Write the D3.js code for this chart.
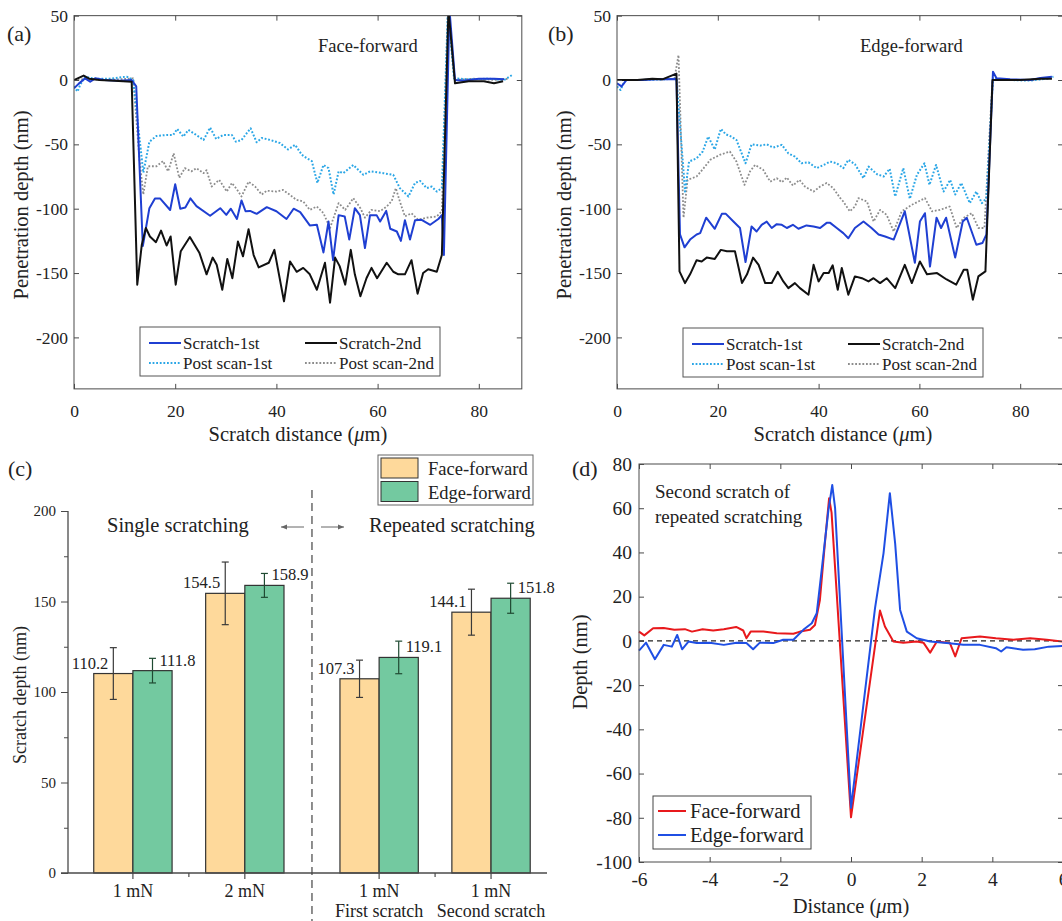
<!DOCTYPE html>
<html>
<head>
<meta charset="utf-8">
<script src="https://cdn.jsdelivr.net/npm/d3@7"></script>
<style>
  body { margin: 0; background: #fff; }
  svg text { font-family: "Liberation Serif", "Times New Roman", serif; fill: #222; }
</style>
</head>
<body>
<svg id="fig" width="1062" height="921"></svg>
<script>
// ---- panel (a) face-forward profiles: [distance um, depth nm]
const aScratch1st = [[0,-6.5],[0.9,-3],[2.2,1.3],[3.2,-1.3],[4.2,1.3],[6,0],[9,-0.5],[11.4,0],[12.3,-5],[13.6,-129],[14.9,-99.6],[16,-92],[17,-92],[19,-101],[20,-81],[21,-100],[22,-99],[23,-92],[24.2,-98],[26.9,-105.5],[28.9,-99.6],[30.1,-104.8],[31,-100],[32.2,-108],[33.1,-93.6],[33.9,-102],[34.8,-101.7],[36.1,-104],[38.1,-98.8],[40,-102],[42,-108],[43.4,-100],[44.7,-102.7],[46.6,-113],[48,-112.5],[49.3,-134],[50.3,-110],[51.2,-140],[52.3,-105],[53.5,-106],[54.4,-124],[55.5,-99.6],[56.5,-105],[57.5,-130.6],[58.5,-105],[59.8,-105],[60.5,-110],[61.7,-101.7],[62.5,-115.6],[63.8,-117.7],[64.6,-125],[65.4,-109],[66.4,-124],[67.4,-109],[68.7,-108.6],[70.4,-112.5],[72,-108],[72.7,-105],[73.1,-136],[74.2,55],[75.3,0],[77,-0.5],[80,1],[83,1],[85,0.5]];
const aScratch2nd = [[0,0],[1.9,3.4],[3,1],[5,0],[8,-0.5],[11.4,-1.3],[12.5,-159],[13.4,-128],[14.2,-115],[15,-121.6],[16.2,-126],[17.2,-117],[18.3,-128.6],[19.1,-121.6],[20.1,-159],[21.1,-133],[22.9,-122],[24.8,-134.5],[26.2,-151],[27.4,-138],[28.2,-143.6],[29.3,-163],[30.3,-139],[31.3,-154],[32.4,-125.5],[33.4,-137],[34.5,-116],[35.5,-136],[36.5,-145.6],[38.5,-142],[39.6,-132],[41.5,-172],[42.7,-141],[44,-149],[45.3,-146],[46.6,-151],[48,-163],[49.6,-142],[50.6,-173],[51.6,-138],[52.5,-144.6],[53.6,-159],[54.7,-132],[55.5,-151],[56.6,-168],[57.8,-154],[58.8,-146],[59.9,-154],[61.8,-142],[63.1,-149],[64.1,-151],[65.4,-151],[66.7,-140],[67.9,-166],[69,-150],[70,-147],[71.7,-149],[72.7,-136],[74,55],[75.3,-2.6],[78,-1],[81,-1],[83,-2.5],[84.8,-1]];
const aPost1st = [[0,-5],[0.7,-9],[1.2,-4],[2.2,2.6],[4,1],[7,1],[10.4,2.6],[11.7,0],[12.8,-40],[13.7,-72],[14.9,-48],[16.3,-43.5],[18.3,-42.7],[19.6,-42.7],[20.4,-38],[21.6,-44],[22.6,-38.8],[23.9,-42],[25.6,-46.6],[26.9,-37],[28.1,-45.8],[29.5,-42.7],[31.2,-42.7],[32,-47.9],[33.1,-46.6],[34.9,-37.5],[36.1,-48.4],[37.1,-45],[38.8,-46.6],[40.7,-49],[42.3,-54],[43.7,-50.4],[45,-58],[46,-60.8],[47,-63],[48.1,-80],[49.3,-66],[50.3,-68.5],[51.3,-89],[52.3,-71],[53.2,-72.4],[55.2,-66],[57.2,-73.7],[58.5,-71],[61.1,-72.4],[63.1,-73.7],[64.4,-84],[66.1,-90.5],[67.4,-80],[68.4,-78.4],[69.7,-84],[70.7,-82.8],[71.7,-86.7],[72.7,-84],[73.9,55],[75.1,1.3],[78,0.5],[82,1],[85,0],[86.6,3.9]];
const aPost2nd = [[0,0],[3,1],[6,0],[9,0.5],[11.7,1.3],[12.9,-60],[13.7,-89],[14.6,-67],[16.3,-67],[17.6,-63],[18.6,-71],[19.7,-57],[20.8,-76],[21.9,-68.5],[23.2,-71],[24.2,-68.5],[25.6,-72.4],[26.2,-70],[27.2,-82.8],[28.7,-77.6],[30.2,-86.7],[31.2,-80],[32.2,-85],[33.1,-90.5],[34.5,-79],[35.8,-82.8],[37.1,-89],[38.1,-86],[40,-86.7],[41.3,-85.4],[42.6,-89],[43.9,-93],[45.3,-94.4],[46.6,-100.9],[48,-98.3],[49.3,-103.5],[50.6,-115],[52.3,-95.7],[53.6,-100.9],[55.2,-91.8],[56.6,-99.6],[57.5,-107],[58.8,-100.9],[60.5,-102],[61.8,-98.3],[62.8,-94],[63.6,-84],[64.4,-94.4],[65.4,-106],[66.7,-103.5],[68,-108.6],[69.7,-107],[71.7,-106],[72.7,-102],[73.9,55],[75.2,0],[79,1],[83,0],[86,1]];

// ---- panel (b) edge-forward profiles
const bScratch1st = [[0,-2.6],[0.9,-5],[1.9,0],[5,0],[8,0.5],[11.8,0.8],[12.5,-120],[13.4,-130],[14.5,-124],[15.8,-120],[16.5,-119],[17.7,-107],[19.4,-115.6],[20.8,-104],[21.6,-104],[23.1,-110],[24.4,-115],[25.5,-141.5],[26.7,-113.8],[27.7,-117.7],[28.7,-112.5],[29.7,-110],[30.7,-115],[31.7,-112],[32.7,-112.5],[33.7,-115],[34.9,-112.5],[36,-115.6],[37.6,-113],[39,-113.8],[40.3,-115],[41.6,-111],[42.3,-111],[43.6,-115],[44.9,-119],[45.9,-123],[47.2,-115],[48.9,-110],[50.5,-115],[51.9,-120],[53.2,-121.6],[54.9,-124],[57.1,-102],[59.1,-142],[60.1,-110],[61.1,-103.5],[62.1,-145],[63.4,-107],[64.3,-115],[65.3,-107],[67.1,-138],[68.6,-110],[69.4,-107],[71.3,-128],[72.5,-126.7],[73.3,-120],[74.6,6.5],[75.3,1.3],[78,0.5],[82,0],[84,1.5],[86.3,2.6]];
const bScratch2nd = [[0,0],[4,0],[7,1],[9,0.5],[11.8,5],[12.4,-148.7],[13.5,-157.8],[14.5,-151],[15.8,-140],[16.8,-141],[17.8,-138],[19.4,-139],[20.6,-132],[21.8,-133],[23.4,-133],[24.8,-157.8],[25.8,-151],[27,-138],[28.1,-143.6],[29.4,-157.8],[30.7,-157.8],[31.9,-149],[33,-156.5],[34,-161.7],[35.3,-157.8],[36.3,-161.7],[38,-166.8],[39,-143.6],[40,-156.5],[41,-150],[42,-150],[42.8,-144],[43.8,-163],[44.6,-146],[45.9,-166.8],[47.2,-152.6],[48.6,-154],[49.9,-156.5],[50.9,-154],[52.2,-157.8],[53.5,-154],[55.2,-161.7],[57.1,-143.6],[58.5,-157.8],[60.1,-141],[61.5,-151],[63.5,-150],[65.4,-155],[67.3,-159],[68.8,-147.4],[69.5,-147.4],[70.6,-170.7],[71.7,-152.6],[73.1,-148.7],[74.5,0],[76,0],[80,0],[84,1],[86.3,1]];
const bPost1st = [[0,-5],[0.7,-7.8],[1.6,0],[5,0],[9,0.5],[11.8,1],[12.6,-40],[13.5,-86.7],[14.3,-63.4],[15.8,-60.8],[17,-55.6],[18.1,-44],[19.4,-54],[20.6,-38],[21.6,-42.2],[22.7,-44],[23.7,-46.6],[25.5,-64.7],[26.7,-50],[28.4,-51],[29.7,-50],[31,-52.5],[32.7,-50.4],[34,-57],[35.3,-59.5],[36.6,-64.7],[38,-64],[39.6,-68.5],[41,-66],[42.3,-63.4],[43.6,-64.7],[44.9,-68.5],[45.9,-62],[47.2,-65.4],[48.9,-76.3],[49.9,-67.3],[51.6,-73.2],[52.9,-75],[54.1,-69],[55.2,-90.5],[56.8,-68.5],[58.1,-92.3],[59.5,-73.7],[61,-64.7],[62,-81.5],[63.3,-66],[64.8,-86.7],[66.1,-77.6],[67.1,-89],[68.3,-80],[70,-95.7],[71.3,-86.7],[72.4,-95.7],[73.3,-91.8],[74.6,1.3],[78,0],[82,-0.5],[85,1],[86.6,2.6]];
const bPost2nd = [[0,0],[5,0],[9,0.5],[11.4,1],[12.2,19.4],[13.2,-107],[14,-77.6],[15.8,-75],[17.2,-68.5],[18.5,-62],[20.5,-58],[22.4,-55.6],[23.7,-63.4],[25.3,-81.5],[26.4,-71],[27.4,-66],[29,-69.8],[30.4,-79],[31.7,-76.3],[32.7,-79.4],[33.7,-75.8],[34.9,-82],[36.2,-77.6],[37.3,-82.8],[39,-86.7],[40.3,-82.8],[41.6,-80],[42.9,-84],[44.3,-91.8],[44.9,-94.4],[46.2,-102],[47.2,-98.3],[47.9,-91.8],[49.6,-94.4],[50.9,-110],[52.2,-100.9],[53.5,-104.8],[54.9,-117.7],[56.5,-102],[58.5,-97],[61.1,-91.8],[62.5,-102],[64.1,-100.9],[66,-98.3],[67.4,-115],[68.8,-107],[70.4,-103.5],[71.7,-115],[72.9,-115],[74.5,0],[78,0],[82,0],[86,1]];

const profileNames = ["Scratch-1st", "Scratch-2nd", "Post scan-1st", "Post scan-2nd"];
const xTicksAB = [0, 20, 40, 60, 80];
const yTicksAB = [50, 0, -50, -100, -150, -200];

// ---- panel (c) bar chart
const cLoads = ["1 mN", "2 mN", "1 mN", "1 mN"];
const cSubLabels = ["", "", "First scratch", "Second scratch"];
const cGroups = ["single", "single", "repeated", "repeated"];
const faceMeans = [110.2, 154.5, 107.3, 144.1];
const faceErr = [14.3, 17.3, 10.3, 12.7];
const edgeMeans = [111.8, 158.9, 119.1, 151.8];
const edgeErr = [6.8, 6.6, 9, 8.3];
const yTicksC = [0, 50, 100, 150, 200];

// ---- panel (d) second scratch cross-section
const dFace = [[-6,4.2],[-5.85,2.5],[-5.6,5.7],[-5.3,5.8],[-5,5],[-4.7,5.3],[-4.5,4.2],[-4.2,5.3],[-3.9,4.7],[-3.6,5.3],[-3.25,6.3],[-3.05,4.7],[-2.96,1.2],[-2.84,4.2],[-2.48,4.2],[-2.1,3.5],[-1.63,3.2],[-1.44,4.2],[-1.16,5],[-1.02,7.2],[-0.88,18.5],[-0.74,44],[-0.62,64.5],[-0.55,58],[0,-79.8],[0.82,13.7],[0.96,6.5],[1.2,-0.3],[1.48,-0.8],[1.86,-0.3],[2.05,-0.8],[2.24,-5.3],[2.43,-0.3],[2.8,-1],[2.95,-7],[3.13,1.2],[3.65,2],[4.1,1.2],[4.6,0.5],[5.07,1.2],[5.54,0.5],[6,-0.3]];
const dEdge = [[-6,-4.4],[-5.8,-0.8],[-5.55,-8.3],[-5.3,-1.8],[-5.07,-2.6],[-4.92,2.7],[-4.78,-3.8],[-4.6,-0.3],[-4.37,-1],[-4,-0.8],[-3.6,-1.8],[-3.24,-0.8],[-2.96,-1],[-2.77,-3.8],[-2.58,-0.8],[-2.2,-1],[-1.92,0.5],[-1.63,0.5],[-1.35,5],[-1.11,8],[-0.97,12.5],[-0.83,32],[-0.64,59],[-0.53,70.5],[-0.45,60],[0,-75.5],[0.68,14.8],[0.92,39.6],[1.1,66.8],[1.25,44],[1.39,14],[1.58,4.2],[1.86,1.2],[2.24,-0.3],[2.71,-1],[3.18,-1.8],[3.65,-1.8],[4.1,-3.3],[4.25,-4.8],[4.4,-2.9],[4.87,-4],[5.2,-3.8],[5.6,-2.6],[6,-2.3]];
const xTicksD = [-6, -4, -2, 0, 2, 4, 6];
const yTicksD = [80, 60, 40, 20, 0, -20, -40, -60, -80, -100];

const svg = d3.select("#fig");
const axisColor = "#4a4a4a";
const serif = '"Liberation Serif", "Times New Roman", serif';

function styleAxis(g, fs) {
  g.attr("font-family", serif).attr("font-size", fs);
  g.selectAll(".domain").remove();
  g.selectAll(".tick line").attr("stroke", axisColor);
  g.selectAll(".tick text").attr("fill", "#222");
}

// MATLAB style box with inward ticks on every side
function boxAxes(g, x, y, xt, yt, fs, padX, padY) {
  const [l, r] = x.range(), [b, t] = y.range();
  g.append("rect").attr("x", l).attr("y", t).attr("width", r - l).attr("height", b - t)
    .attr("fill", "none").attr("stroke", axisColor).attr("stroke-width", 1);
  const fmt = d => String(d);
  g.append("g").attr("transform", `translate(0,${b})`)
    .call(d3.axisBottom(x).tickValues(xt).tickSizeInner(-5).tickSizeOuter(0).tickPadding(padX).tickFormat(fmt))
    .call(s => styleAxis(s, fs));
  g.append("g").attr("transform", `translate(0,${t})`)
    .call(d3.axisTop(x).tickValues(xt).tickSizeInner(-5).tickSizeOuter(0).tickFormat(""))
    .call(s => styleAxis(s, fs));
  g.append("g").attr("transform", `translate(${l},0)`)
    .call(d3.axisLeft(y).tickValues(yt).tickSizeInner(-5).tickSizeOuter(0).tickPadding(padY).tickFormat(fmt))
    .call(s => styleAxis(s, fs));
  g.append("g").attr("transform", `translate(${r},0)`)
    .call(d3.axisRight(y).tickValues(yt).tickSizeInner(-5).tickSizeOuter(0).tickFormat(""))
    .call(s => styleAxis(s, fs));
}

const profileStyles = [
  { color: "#1f3fd2", dash: null, width: 2 },
  { color: "#111111", dash: null, width: 2 },
  { color: "#2aa6e6", dash: "1.8,1.8", width: 2 },
  { color: "#8c8c8c", dash: "1.8,1.8", width: 1.8 }
];

function profilePanel(id, x, y, seriesList, title, titleX, legendBox, label, labelX, yLabelX, xLabelX) {
  const g = svg.append("g");
  const [l, r] = x.range(), [b, t] = y.range();
  g.append("clipPath").attr("id", id).append("rect")
    .attr("x", l).attr("y", t).attr("width", r - l).attr("height", b - t);
  const line = d3.line().x(d => x(d[0])).y(d => y(d[1]));
  // dotted post scans first, then the solid scratches on top
  [3, 2, 0, 1].forEach(i => {
    const st = profileStyles[i];
    g.append("path").datum(seriesList[i])
      .attr("clip-path", `url(#${id})`)
      .attr("fill", "none").attr("stroke", st.color).attr("stroke-width", st.width)
      .attr("stroke-dasharray", st.dash).attr("stroke-linejoin", "round")
      .attr("d", line);
  });
  boxAxes(g, x, y, xTicksAB, yTicksAB, 17.5, 16, 6);

  g.append("text").attr("x", titleX).attr("y", 52).attr("font-size", 18.5).text(title);
  g.append("text").attr("x", labelX).attr("y", 41).attr("font-size", 22).text(label);
  g.append("text").attr("transform", `translate(${yLabelX},205) rotate(-90)`)
    .attr("text-anchor", "middle").attr("font-size", 20.5).text("Penetration depth (nm)");
  const xl = g.append("text").attr("x", xLabelX).attr("y", 441).attr("text-anchor", "middle").attr("font-size", 20.5);
  xl.append("tspan").text("Scratch distance (");
  xl.append("tspan").attr("font-style", "italic").text("\u03bc");
  xl.append("tspan").text("m)");

  // legend, two columns
  const lg = g.append("g");
  lg.append("rect").attr("x", legendBox.x).attr("y", legendBox.y).attr("width", 300).attr("height", 49)
    .attr("fill", "#fff").attr("stroke", "#555").attr("stroke-width", 1);
  [0, 1, 2, 3].forEach(i => {
    const col = i % 2, row = Math.floor(i / 2);
    const lx = legendBox.x + 9 + col * 156, ly = legendBox.y + 16 + row * 20;
    const st = profileStyles[i];
    lg.append("line").attr("x1", lx).attr("x2", lx + 32).attr("y1", ly).attr("y2", ly)
      .attr("stroke", st.color).attr("stroke-width", st.width).attr("stroke-dasharray", st.dash);
    lg.append("text").attr("x", lx + 34).attr("y", ly + 6).attr("font-size", 17).text(profileNames[i]);
  });
}

// ---------- panel (a)
const xa = d3.scaleLinear().domain([0, 88.5]).range([74, 74 + 88.5 * 5.06]);
const ya = d3.scaleLinear().domain([-240, 50]).range([80 + 240 * 1.287, 80 - 50 * 1.287]);
profilePanel("clipA", xa, ya, [aScratch1st, aScratch2nd, aPost1st, aPost2nd],
  "Face-forward", 318, { x: 140, y: 327 }, "(a)", 7, 28, 298);

// ---------- panel (b)
const xb = d3.scaleLinear().domain([0, 88.5]).range([617, 617 + 88.5 * 5.04]);
profilePanel("clipB", xb, ya, [bScratch1st, bScratch2nd, bPost1st, bPost2nd],
  "Edge-forward", 860, { x: 683, y: 328 }, "(b)", 548, 571, 843);

// ---------- panel (c)
(function () {
  const g = svg.append("g");
  const pos = cLoads.map((d, i) => i + 1 + (cGroups[i] === "repeated" ? 0.2 : 0));
  const x = d3.scaleLinear().domain([0.42, 4.7]).range([68, 547]);
  const y = d3.scaleLinear().domain([0, 200]).range([873, 511]);
  const bw = 0.35;
  const faceColor = "#fed99b", edgeColor = "#73c9a0";

  const bars = [
    { means: faceMeans, err: faceErr, fill: faceColor, off: -bw, errColor: "#3a3a3a", anchor: "end", dx: -5 },
    { means: edgeMeans, err: edgeErr, fill: edgeColor, off: 0, errColor: "#1f4a32", anchor: "start", dx: 7 }
  ];
  bars.forEach(s => {
    s.means.forEach((v, i) => {
      const x0 = x(pos[i] + s.off), x1 = x(pos[i] + s.off + bw), cx = (x0 + x1) / 2;
      g.append("rect").attr("x", x0).attr("y", y(v)).attr("width", x1 - x0).attr("height", y(0) - y(v))
        .attr("fill", s.fill).attr("stroke", "#333").attr("stroke-width", 1.2);
      const top = y(v + s.err[i]), bot = y(v - s.err[i]);
      g.append("line").attr("x1", cx).attr("x2", cx).attr("y1", top).attr("y2", bot).attr("stroke", s.errColor).attr("stroke-width", 1.2);
      [top, bot].forEach(yy => g.append("line").attr("x1", cx - 3.5).attr("x2", cx + 3.5).attr("y1", yy).attr("y2", yy)
        .attr("stroke", s.errColor).attr("stroke-width", 1.2));
      g.append("text").attr("x", cx + s.dx).attr("y", y(v) - 5).attr("text-anchor", s.anchor)
        .attr("font-size", 16.5).text(v.toFixed(1));
    });
  });

  // axes (Origin style: left + bottom, outward ticks)
  g.append("line").attr("x1", 68).attr("x2", 68).attr("y1", y(200)).attr("y2", y(0)).attr("stroke", axisColor).attr("stroke-width", 1.3);
  g.append("line").attr("x1", 61).attr("x2", 547).attr("y1", y(0)).attr("y2", y(0)).attr("stroke", axisColor).attr("stroke-width", 1.3);
  g.append("g").attr("transform", "translate(68,0)")
    .call(d3.axisLeft(y).tickValues(yTicksC).tickSizeInner(7).tickSizeOuter(0).tickPadding(5).tickFormat(d => String(d)))
    .call(s => styleAxis(s, 15));
  g.append("g").attr("transform", "translate(68,0)")
    .call(d3.axisLeft(y).tickValues([25, 75, 125, 175]).tickSizeInner(4).tickSizeOuter(0).tickFormat(""))
    .call(s => styleAxis(s, 15));
  pos.forEach((p, i) => {
    g.append("line").attr("x1", x(p)).attr("x2", x(p)).attr("y1", y(0)).attr("y2", y(0) + 6).attr("stroke", axisColor).attr("stroke-width", 1.2);
    g.append("text").attr("x", x(p)).attr("y", 897).attr("text-anchor", "middle").attr("font-size", 18).text(cLoads[i]);
    if (cSubLabels[i]) g.append("text").attr("x", x(p)).attr("y", 917).attr("text-anchor", "middle").attr("font-size", 18).text(cSubLabels[i]);
  });
  [(pos[0] + pos[1]) / 2, (pos[2] + pos[3]) / 2].forEach(p =>
    g.append("line").attr("x1", x(p)).attr("x2", x(p)).attr("y1", y(0)).attr("y2", y(0) + 4).attr("stroke", axisColor).attr("stroke-width", 1.2));

  // group divider
  const divX = x((pos[1] + pos[2]) / 2);
  g.append("line").attr("x1", divX).attr("x2", divX).attr("y1", 490).attr("y2", 921)
    .attr("stroke", "#444").attr("stroke-width", 1.2).attr("stroke-dasharray", "8,5");
  g.append("text").attr("x", 107).attr("y", 532).attr("font-size", 20.5).text("Single scratching");
  g.append("text").attr("x", 369).attr("y", 532).attr("font-size", 20.5).text("Repeated scratching");
  const arrow = (x1, x2) => {
    g.append("line").attr("x1", x1).attr("x2", x2).attr("y1", 527).attr("y2", 527).attr("stroke", "#666").attr("stroke-width", 1);
    const s = Math.sign(x2 - x1);
    g.append("path").attr("d", `M${x2},527 L${x2 - s * 6},524.5 L${x2 - s * 6},529.5 Z`).attr("fill", "#666");
  };
  arrow(304, 281);
  arrow(321, 344);

  g.append("text").attr("x", 8).attr("y", 476).attr("font-size", 22).text("(c)");
  g.append("text").attr("transform", "translate(26,695) rotate(-90)").attr("text-anchor", "middle")
    .attr("font-size", 18).text("Scratch depth (nm)");

  // legend
  const lg = g.append("g");
  lg.append("rect").attr("x", 378).attr("y", 455).attr("width", 155).attr("height", 50).attr("fill", "#fff").attr("stroke", "#666");
  [["Face-forward", faceColor], ["Edge-forward", edgeColor]].forEach((d, i) => {
    lg.append("rect").attr("x", 381).attr("y", 458 + i * 23.5).attr("width", 37).attr("height", 20)
      .attr("fill", d[1]).attr("stroke", "#333").attr("stroke-width", 1);
    lg.append("text").attr("x", 428).attr("y", 475 + i * 23.5).attr("font-size", 18.5).text(d[0]);
  });
})();

// ---------- panel (d)
(function () {
  const g = svg.append("g");
  const x = d3.scaleLinear().domain([-6, 6]).range([639, 1063]);
  const y = d3.scaleLinear().domain([-100, 80]).range([862, 464]);
  g.append("line").attr("x1", x(-6)).attr("x2", x(6)).attr("y1", y(0)).attr("y2", y(0))
    .attr("stroke", "#222").attr("stroke-width", 1.3).attr("stroke-dasharray", "5,4");
  const line = d3.line().x(d => x(d[0])).y(d => y(d[1]));
  const series = [[dFace, "#e8191c", "Face-forward"], [dEdge, "#1f4fe4", "Edge-forward"]];
  series.forEach(s => g.append("path").datum(s[0]).attr("fill", "none").attr("stroke", s[1])
    .attr("stroke-width", 2).attr("stroke-linejoin", "round").attr("d", line));
  boxAxes(g, x, y, xTicksD, yTicksD, 19.5, 10, 7);

  g.append("text").attr("x", 572).attr("y", 476).attr("font-size", 22).text("(d)");
  g.append("text").attr("x", 655).attr("y", 498).attr("font-size", 19).text("Second scratch of");
  g.append("text").attr("x", 655).attr("y", 523).attr("font-size", 19).text("repeated scratching");
  g.append("text").attr("transform", "translate(587,662) rotate(-90)").attr("text-anchor", "middle")
    .attr("font-size", 20.5).text("Depth (nm)");
  const xl = g.append("text").attr("x", 851).attr("y", 913).attr("text-anchor", "middle").attr("font-size", 20.5);
  xl.append("tspan").text("Distance (");
  xl.append("tspan").attr("font-style", "italic").text("\u03bc");
  xl.append("tspan").text("m)");

  const lg = g.append("g");
  lg.append("rect").attr("x", 653).attr("y", 796).attr("width", 158).attr("height", 53)
    .attr("fill", "#fff").attr("stroke", "#444");
  series.forEach((s, i) => {
    const ly = 811 + i * 24;
    lg.append("line").attr("x1", 658).attr("x2", 686).attr("y1", ly).attr("y2", ly).attr("stroke", s[1]).attr("stroke-width", 2);
    lg.append("text").attr("x", 690).attr("y", ly + 7).attr("font-size", 20.5).text(s[2]);
  });
})();
</script>
</body>
</html>
